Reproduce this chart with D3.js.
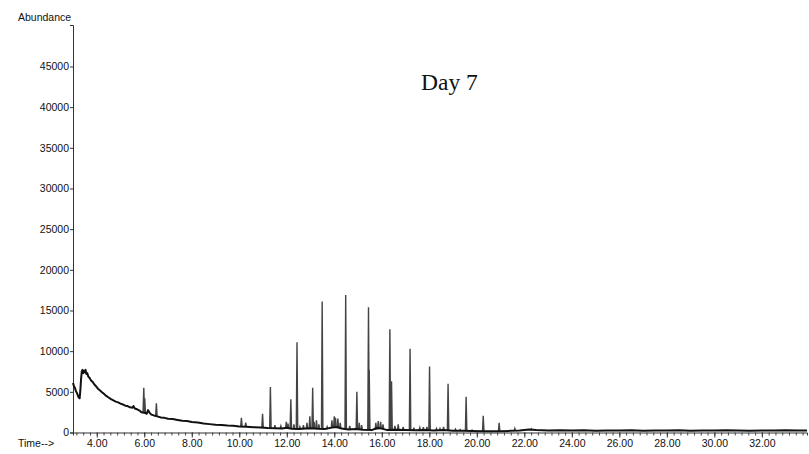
<!DOCTYPE html>
<html>
<head>
<meta charset="utf-8">
<script src="https://cdn.jsdelivr.net/npm/d3@7"></script>
<style>
  body { margin: 0; background: #fff; }
  svg { display: block; }
  .axis-text { font-family: "Liberation Sans", Arial, sans-serif; font-size: 10.5px; fill: #111; }
  .title { font-family: "Liberation Serif", "Times New Roman", serif; font-size: 23.5px; fill: #111; }
</style>
</head>
<body>
<div id="chart"></div>
<script>
// chromatogram baseline, [time (min), abundance]
const baseline = [
  [3.00, 6100], [3.04, 5700], [3.08, 5500], [3.12, 5100], [3.16, 4900], [3.20, 4600],
  [3.24, 4300], [3.28, 4200], [3.31, 5200], [3.34, 6600], [3.37, 7500], [3.40, 7700],
  [3.43, 7300], [3.46, 7600], [3.50, 7400], [3.53, 7700], [3.56, 7200], [3.60, 7300],
  [3.64, 6900], [3.70, 6700], [3.76, 6400], [3.82, 6250], [3.90, 5900], [3.98, 5650],
  [4.06, 5350], [4.14, 5150], [4.22, 4950], [4.30, 4750], [4.40, 4500], [4.50, 4300],
  [4.60, 4100], [4.70, 3950], [4.80, 3800], [4.90, 3700], [5.00, 3550], [5.10, 3450],
  [5.20, 3300], [5.30, 3250], [5.40, 3100], [5.50, 3050], [5.55, 3250], [5.60, 2950],
  [5.70, 2850], [5.80, 2700], [5.88, 2500], [5.94, 2450], [6.04, 2400], [6.10, 2300],
  [6.16, 2750], [6.22, 2450], [6.30, 2200], [6.40, 2100], [6.46, 2050], [6.58, 1950],
  [6.70, 1850], [6.85, 1800], [7.00, 1700], [7.20, 1650], [7.40, 1550], [7.60, 1450],
  [7.80, 1420], [8.00, 1300], [8.25, 1220], [8.50, 1100], [8.75, 1030], [9.00, 950],
  [9.25, 920], [9.50, 850], [9.75, 820], [10.00, 750], [10.30, 720], [10.60, 650],
  [10.90, 620], [11.20, 550], [11.50, 520], [11.80, 500], [12.00, 580], [12.20, 450],
  [12.50, 420], [12.80, 480], [13.00, 520], [13.30, 450], [13.60, 420], [13.90, 600],
  [14.10, 680], [14.30, 480], [14.60, 380], [14.90, 420], [15.20, 350], [15.60, 320],
  [15.80, 550], [16.00, 480], [16.20, 320], [16.60, 350], [17.00, 300], [17.40, 270],
  [17.80, 320], [18.20, 260], [18.60, 300], [19.00, 220], [19.40, 200], [19.80, 170],
  [20.20, 150], [20.60, 160], [21.00, 150], [21.40, 200], [21.80, 250], [22.00, 300],
  [22.20, 360], [22.50, 300], [23.00, 250], [23.50, 280], [24.00, 240], [24.50, 270],
  [25.00, 230], [25.50, 260], [26.00, 240], [26.50, 280], [27.00, 230], [27.50, 260],
  [28.00, 240], [28.50, 270], [29.00, 230], [29.50, 250], [30.00, 240], [30.50, 280],
  [31.00, 250], [31.50, 230], [32.00, 260], [32.50, 240], [33.00, 270], [33.50, 250],
  [33.90, 260]
];

// peaks: [retention time, apex abundance, abundance at foot]
const peaks = [
  [5.98, 5500, 2450], [6.02, 4200, 2400], [6.51, 3600, 2050],
  [10.09, 1800, 740], [10.27, 1200, 700], [10.98, 2300, 600], [11.31, 5600, 550],
  [11.50, 900, 500], [11.75, 800, 500], [11.98, 1300, 500], [12.05, 1100, 520],
  [12.17, 4100, 480], [12.30, 1000, 450], [12.43, 11100, 420], [12.55, 700, 420],
  [12.70, 900, 420], [12.85, 1200, 450], [12.97, 2000, 480], [13.09, 5500, 480],
  [13.15, 1300, 480], [13.25, 1500, 450], [13.35, 1000, 450], [13.49, 16100, 420],
  [13.70, 700, 420], [13.90, 1500, 550], [14.00, 2000, 550], [14.05, 1800, 600],
  [14.15, 1700, 620], [14.25, 1200, 500], [14.48, 16900, 400], [14.65, 800, 380],
  [14.95, 5000, 390], [15.05, 1200, 370], [15.15, 900, 350], [15.44, 15400, 340],
  [15.47, 7700, 340], [15.75, 1200, 350], [15.85, 1400, 400], [15.95, 1300, 450],
  [16.05, 1000, 420], [16.34, 12700, 320], [16.41, 6300, 320], [16.55, 800, 320],
  [16.69, 1000, 330], [16.90, 700, 310], [17.19, 10300, 290], [17.35, 600, 260],
  [17.60, 600, 270], [17.75, 650, 290], [17.90, 700, 290], [18.01, 8100, 280],
  [18.30, 500, 260], [18.45, 500, 260], [18.60, 700, 280], [18.79, 6000, 260],
  [19.10, 400, 200], [19.30, 350, 200], [19.55, 4400, 200], [19.80, 300, 150],
  [20.27, 2050, 150], [20.94, 1200, 150], [21.60, 500, 200], [22.30, 450, 330]
];

const yTickValues = [0, 5000, 10000, 15000, 20000, 25000, 30000, 35000, 40000, 45000];
const xTickValues = [4, 6, 8, 10, 12, 14, 16, 18, 20, 22, 24, 26, 28, 30, 32];
const title = 'Day 7';

const width = 809;
const height = 454;
const plot = { left: 73, right: 807, top: 25, bottom: 432.5 };

const svg = d3.select('#chart')
  .append('svg')
  .attr('width', width)
  .attr('height', height);

const x = d3.scaleLinear().domain([3, 33.9]).range([plot.left, plot.right]);
const y = d3.scaleLinear().domain([0, 50100]).range([plot.bottom, plot.top]);

// y axis
const yAxis = svg.append('g')
  .attr('transform', `translate(${plot.left},0)`)
  .call(d3.axisLeft(y).tickValues(yTickValues).tickSize(3).tickPadding(1).tickFormat(d3.format('d')));
yAxis.select('.domain').attr('stroke', '#333');
yAxis.selectAll('line').attr('stroke', '#333');
yAxis.selectAll('text').attr('class', 'axis-text');

// x axis: minor ticks then labelled ones
const minorTicks = d3.range(4 - 2 / 7 * 3, 33.9, 2 / 7);
const xMinor = svg.append('g')
  .attr('transform', `translate(0,${plot.bottom})`)
  .call(d3.axisBottom(x).tickValues(minorTicks).tickSize(3).tickFormat(''));
xMinor.select('.domain').attr('stroke', '#333');
xMinor.selectAll('line').attr('stroke', '#444');

const xAxis = svg.append('g')
  .attr('transform', `translate(0,${plot.bottom})`)
  .call(d3.axisBottom(x).tickValues(xTickValues).tickSize(5).tickPadding(2).tickFormat(d3.format('.2f')));
xAxis.select('.domain').remove();
xAxis.selectAll('line').attr('stroke', '#333');
xAxis.selectAll('text').attr('class', 'axis-text');

svg.append('text')
  .attr('class', 'axis-text')
  .attr('x', 18)
  .attr('y', 21)
  .text('Abundance');

svg.append('text')
  .attr('class', 'axis-text')
  .attr('x', 18)
  .attr('y', 447)
  .text('Time-->');

svg.append('text')
  .attr('class', 'title')
  .attr('x', 421)
  .attr('y', 90)
  .text(title);

// trace
const line = d3.line().x(d => x(d[0])).y(d => y(d[1]));

svg.append('g')
  .selectAll('path')
  .data(peaks)
  .join('path')
  .attr('d', p => line([[p[0] - 0.03, p[2]], [p[0], p[1]], [p[0] + 0.03, p[2]]]))
  .attr('fill', 'none')
  .attr('stroke', '#444')
  .attr('stroke-width', 1.4);

svg.append('path')
  .datum(baseline)
  .attr('d', line)
  .attr('fill', 'none')
  .attr('stroke', '#111')
  .attr('stroke-width', 2)
  .attr('stroke-linejoin', 'round');
</script>
</body>
</html>
